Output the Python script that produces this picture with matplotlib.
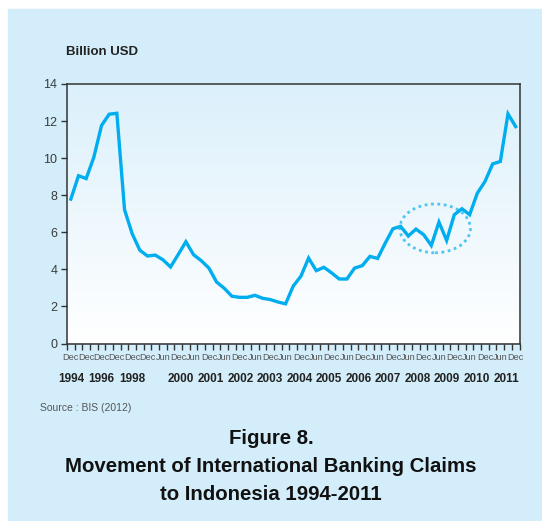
import numpy as np
import matplotlib
matplotlib.use("Agg")
import matplotlib.pyplot as plt
from matplotlib.patches import Rectangle, Ellipse
from matplotlib.colors import LinearSegmentedColormap
import matplotlib.transforms as mtransforms

# claims, billion USD: half-yearly Dec94..Dec99, then quarterly Mar00..Dec11
claims = [7.79, 9.05, 8.9, 10.05, 11.76, 12.37, 12.42, 7.22, 5.92, 5.03, 4.72,
          4.77, 4.52, 4.13, 4.8, 5.49, 4.79, 4.47, 4.07, 3.32, 2.98, 2.55, 2.49,
          2.49, 2.60, 2.44, 2.37, 2.24, 2.14, 3.1, 3.63, 4.61, 3.93, 4.11, 3.81,
          3.48, 3.48, 4.07, 4.20, 4.70, 4.59, 5.42, 6.19, 6.32, 5.8, 6.17, 5.87,
          5.29, 6.55, 5.56, 6.95, 7.27, 6.95, 8.11, 8.74, 9.69, 9.82, 12.39, 11.70]
month_labels = ["Dec"] * 6 + ["Jun", "Dec"] * 12
years_early = ["1994", "1996", "1998"]
years_late = [str(y) for y in range(2000, 2012)]

FONT = ["Liberation Sans", "DejaVu Sans"]
plt.rcParams["font.family"] = FONT

fig = plt.figure(figsize=(5.42, 5.21), dpi=100)
fig.patches.append(Rectangle((8 / 542, 0), 1, (521 - 9) / 521,
                             transform=fig.transFigure, color="#d3eefa", zorder=-10))

ax = fig.add_axes([67 / 542, (521 - 343.5) / 521, 452.5 / 542, 259.5 / 521])
ax.set_facecolor("none")

# gradient background of plot area
cmap = LinearSegmentedColormap.from_list("bg", ["#ffffff", "#dbf0fb"])
grad = np.linspace(0, 1, 256).reshape(-1, 1)
ax.imshow(grad, cmap=cmap, aspect="auto", extent=[0, 1, 0, 1],
          transform=ax.transAxes, origin="lower", zorder=0)

x = np.arange(len(claims))
ax.plot(x, claims, color="#00aeef", lw=2.4, solid_joinstyle="miter", zorder=3)

ax.add_patch(Ellipse((47.5, 6.21), 9.2, 2.63, fill=False, edgecolor="#4ec5f0",
                     lw=2.0, linestyle=(0, (1, 1.3)), zorder=2))

ax.set_xlim(-0.5, len(claims) - 0.5)
ax.set_ylim(0, 14)
ax.set_yticks(range(0, 15, 2))
ax.set_yticklabels([str(v) for v in range(0, 15, 2)], fontsize=9, color="#3c3c3c")
ax.tick_params(axis="y", direction="out", length=4, width=1, color="#333333", pad=3)

ax.set_xticks(np.arange(-0.5, len(claims), 1), minor=True)
ax.set_xticks(range(0, len(claims), 2))
ax.set_xticklabels(month_labels, fontsize=6.6, color="#555555")
ax.tick_params(axis="x", which="major", length=0, pad=7)
ax.tick_params(axis="x", which="minor", direction="out", length=4, width=1,
               color="#333333")

for s in ax.spines.values():
    s.set_color("#333333")
    s.set_linewidth(1.1)

trans = mtransforms.blended_transform_factory(ax.transData, ax.transAxes)
for k, yr in enumerate(years_early):
    ax.text(4 * k, -0.138, yr, transform=trans, ha="center", va="center",
            fontsize=8.5, fontweight="bold", color="#222222")
for k, yr in enumerate(years_late):
    ax.text(14.4 + 3.85 * k, -0.138, yr, transform=trans, ha="center", va="center",
            fontsize=8.5, fontweight="bold", color="#222222")

fig.text(66 / 542, 1 - 52 / 521, "Billion USD", fontsize=9.5,
         fontweight="bold", color="#222222", ha="left", va="center")
fig.text(40 / 542, 1 - 408 / 521, "Source : BIS (2012)",
         fontsize=7.5, color="#555555", ha="left", va="center")

fig.text(0.5, 1 - 439 / 521, "Figure 8.", fontsize=14.7,
         fontweight="bold", ha="center", va="center", color="#111111")
fig.text(0.5, 1 - 467 / 521, "Movement of International Banking Claims",
         fontsize=14.7, fontweight="bold", ha="center",
         va="center", color="#111111")
fig.text(0.5, 1 - 495 / 521, "to Indonesia 1994-2011",
         fontsize=14.7, fontweight="bold", ha="center", va="center",
         color="#111111")

fig.savefig("out.png", dpi=100)
